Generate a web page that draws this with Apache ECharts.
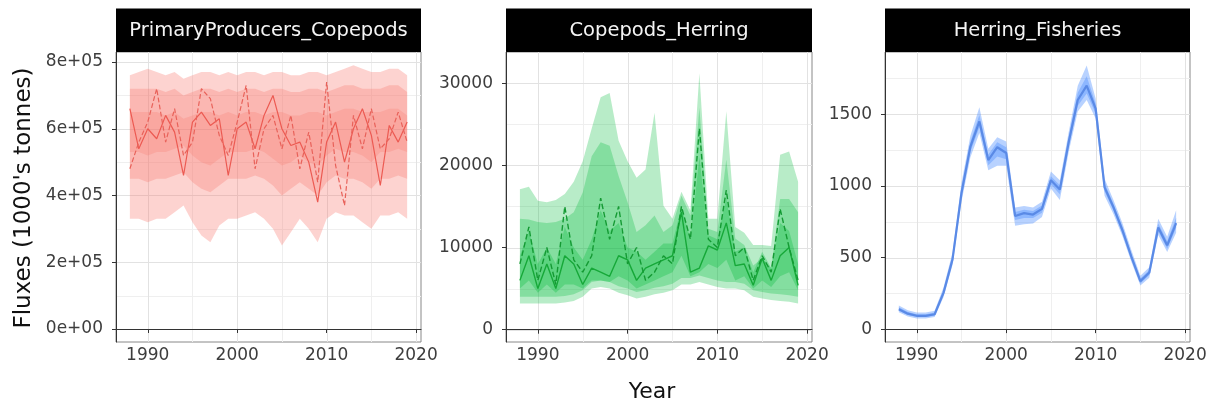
<!DOCTYPE html>
<html><head><meta charset="utf-8">
<script src="https://cdn.jsdelivr.net/npm/echarts@6/dist/echarts.min.js"></script>
<style>html,body{margin:0;padding:0;background:#fff}#c{width:1211px;height:405px}</style>
</head><body><div id="c"></div>
<script>
// ---------- DATA ----------
const years = [1988,1989,1990,1991,1992,1993,1994,1995,1996,1997,1998,1999,2000,2001,2002,2003,2004,2005,2006,2007,2008,2009,2010,2011,2012,2013,2014,2015,2016,2017,2018,2019];
const panelTitles = ["PrimaryProducers_Copepods","Copepods_Herring","Herring_Fisheries"];
const xTicks = [1990,2000,2010,2020];
const xMinor = [1995,2005,2015];

// Panel 1: PrimaryProducers_Copepods
const pp_median = [660000,540000,600000,570000,640000,590000,460000,620000,650000,610000,630000,460000,600000,620000,540000,640000,700000,600000,550000,560000,500000,380000,560000,620000,500000,600000,660000,580000,430000,610000,560000,620000];
const pp_dashed = [480000,560000,620000,720000,560000,660000,520000,560000,720000,690000,580000,520000,620000,730000,480000,600000,640000,540000,640000,480000,590000,440000,740000,490000,370000,640000,540000,660000,540000,570000,650000,560000];
const pp_hi95 = [760000,770000,780000,770000,760000,770000,750000,760000,770000,770000,760000,770000,760000,770000,770000,760000,770000,770000,760000,760000,770000,770000,760000,770000,780000,790000,780000,770000,770000,780000,780000,760000];
const pp_lo95 = [330000,330000,320000,330000,330000,350000,370000,320000,280000,260000,310000,330000,330000,340000,350000,330000,300000,250000,290000,330000,300000,260000,330000,350000,340000,340000,320000,300000,340000,340000,350000,330000];
const pp_hi80 = [720000,720000,720000,720000,710000,720000,700000,710000,720000,720000,710000,720000,710000,720000,720000,710000,720000,720000,710000,710000,720000,720000,710000,720000,730000,730000,720000,720000,720000,730000,730000,710000];
const pp_lo80 = [450000,450000,440000,450000,450000,460000,470000,440000,420000,410000,430000,450000,450000,450000,460000,450000,430000,400000,420000,440000,420000,400000,440000,460000,450000,450000,440000,420000,450000,450000,460000,450000];
const pp_hi50 = [650000,650000,650000,650000,640000,650000,630000,640000,650000,650000,640000,650000,640000,650000,650000,640000,650000,650000,640000,640000,650000,650000,640000,650000,660000,660000,650000,650000,650000,660000,660000,640000];
const pp_lo50 = [530000,530000,520000,530000,530000,540000,550000,520000,500000,490000,510000,530000,530000,530000,540000,530000,510000,490000,500000,520000,500000,490000,520000,540000,530000,530000,520000,500000,530000,530000,540000,530000];
const pp_yTicks = [0,200000,400000,600000,800000];
const pp_yLabels = ["0e+00","2e+05","4e+05","6e+05","8e+05"];
const pp_yMinor = [100000,300000,500000,700000];

// Panel 2: Copepods_Herring
const ch_median = [6000,9000,5000,8000,5000,9000,8000,5500,7500,7000,6500,9000,8500,6000,7500,8000,8500,9000,14300,7000,7500,10200,9700,13000,7800,8000,5400,8700,6000,9000,10000,5400];
const ch_dashed = [8000,12500,6000,10000,5500,15000,8500,7000,9000,16000,11000,15000,8000,10000,6000,7000,9000,8000,15000,11000,24500,11000,10000,17000,9000,10000,6000,9000,7000,14700,10000,6000];
const ch_hi95 = [17100,17400,15700,15500,15800,16500,18000,20500,24500,28300,28800,23000,20500,18500,19500,26400,15100,13500,16800,14500,31200,13500,13500,26600,12500,11800,10300,10300,10200,21300,21700,18000];
const ch_lo95 = [3200,3200,3200,3200,3200,3300,3500,4000,5000,5200,5000,4500,4200,3800,4000,4300,4500,4800,5500,5500,5800,5500,5200,5000,5000,4800,4000,3800,3600,3500,3400,3200];
const ch_hi80 = [13500,13400,13100,13000,13100,13500,14300,16700,21100,22800,22400,18700,15500,11900,12700,13900,11900,12700,16300,13900,27000,12300,11900,20700,11100,10300,7800,8700,7500,15900,15900,14300];
const ch_lo80 = [4000,4000,4000,4000,4000,4100,4300,4800,5800,6000,5800,5300,5000,4600,4800,5100,5300,5600,6300,6300,6600,6300,6000,5800,5800,5600,4800,4600,4400,4300,4200,4000];
const ch_hi50 = [9000,12000,8000,10000,8000,12500,10000,8500,11000,14500,12000,13000,10000,9500,8500,9500,10500,10500,15000,11000,21000,11500,11000,16000,9500,10000,7000,9500,7500,13000,12000,8000];
const ch_lo50 = [5000,6000,4500,5500,4500,5500,5500,5000,6000,6000,5800,6500,6000,5000,5500,6000,6500,7000,9000,6500,7000,8000,7500,8500,6000,6500,5000,6000,5200,6500,7000,4800];
const ch_yTicks = [0,10000,20000,30000];
const ch_yLabels = ["0","10000","20000","30000"];
const ch_yMinor = [5000,15000,25000];

// Panel 3: Herring_Fisheries
const hf_median = [139,108,93,93,104,255,487,950,1275,1450,1180,1270,1230,790,810,800,840,1040,975,1310,1600,1700,1540,990,850,690,505,335,395,710,585,740];
const hf_hi95 = [165,132,116,116,128,292,535,1020,1350,1550,1260,1340,1310,850,860,850,890,1100,1040,1380,1700,1840,1610,1050,900,740,550,372,432,770,645,830];
const hf_lo95 = [118,88,74,74,84,225,448,890,1200,1370,1110,1140,1140,722,732,738,782,982,902,1240,1520,1600,1470,932,802,648,468,304,358,658,538,672];
const hf_hi50 = [152,120,104,104,116,272,508,984,1310,1495,1220,1305,1270,818,834,824,864,1068,1004,1344,1650,1765,1574,1018,874,714,525,353,413,738,613,778];
const hf_lo50 = [128,98,84,84,94,240,467,921,1240,1410,1145,1205,1186,762,776,776,812,1012,942,1276,1560,1645,1506,962,826,668,487,319,377,684,562,706];
const hf_yTicks = [0,500,1000,1500];
const hf_yLabels = ["0","500","1000","1500"];
const hf_yMinor = [250,750,1250,1750];

// ---------- LAYOUT / STYLE ----------
const FONT = "DejaVu Sans";
const gridsPos = [
  {left:116, top:52, width:305, height:290},
  {left:506, top:52, width:306, height:290},
  {left:885, top:52, width:305, height:290}
];
const yRanges = [[-39000, 830000],[-1500, 33800],[-90, 1935]];
const xRange = [1986.45, 2020.55];

function rgba(hex, a){
  const r=parseInt(hex.slice(1,3),16), g=parseInt(hex.slice(3,5),16), b=parseInt(hex.slice(5,7),16);
  return 'rgba('+r+','+g+','+b+','+a+')';
}

function bandSeries(gi, lo, hi, color, a){
  return {
    type:'custom', xAxisIndex:gi, yAxisIndex:gi, silent:true, z:2, clip:true,
    data:[[years[0], lo[0]]],
    renderItem:function(params, api){
      const pts=[];
      for(let i=0;i<years.length;i++) pts.push(api.coord([years[i], hi[i]]));
      for(let i=years.length-1;i>=0;i--) pts.push(api.coord([years[i], lo[i]]));
      return {type:'polygon', shape:{points:pts}, style:{fill:rgba(color,a)}};
    }
  };
}

function gridLineSeries(gi, yMaj, yMin){
  return {
    type:'custom', xAxisIndex:gi, yAxisIndex:gi, silent:true, z:0, clip:true,
    data:[[2000, 0]],
    renderItem:function(params, api){
      const cs=params.coordSys; const ch=[];
      const v=(val,c)=>{const p=api.coord([val,0]); const x=Math.round(p[0])+0.5;
        ch.push({type:'line', shape:{x1:x,y1:cs.y,x2:x,y2:cs.y+cs.height}, style:{stroke:c,lineWidth:1}});};
      const h=(val,c)=>{const p=api.coord([2000,val]); const y=Math.round(p[1])+0.5;
        ch.push({type:'line', shape:{x1:cs.x,y1:y,x2:cs.x+cs.width,y2:y}, style:{stroke:c,lineWidth:1}});};
      xMinor.forEach(t=>v(t,'#efefef'));
      yMin.forEach(t=>h(t,'#efefef'));
      xTicks.forEach(t=>v(t,'#e2e2e2'));
      yMaj.forEach(t=>h(t,'#e2e2e2'));
      return {type:'group', children:ch};
    }
  };
}

function lineSeries(gi, arr, color, type, w){
  return {
    type:'line', xAxisIndex:gi, yAxisIndex:gi, silent:true, z:3,
    symbol:'none', showSymbol:false,
    data: years.map((y,i)=>[y, arr[i]]),
    lineStyle:{color:color, width:w, type:type}
  };
}

const yTickSets = [pp_yTicks, ch_yTicks, hf_yTicks];
const yLabelSets = [pp_yLabels, ch_yLabels, hf_yLabels];

const grids = gridsPos.map(p=>Object.assign({show:true, borderColor:'#888', borderWidth:1, containLabel:false}, p));
const xAxes = gridsPos.map((p,i)=>({
  type:'value', gridIndex:i, min:xRange[0], max:xRange[1],
  splitLine:{show:false},
  axisLine:{show:true, lineStyle:{color:'#333', width:1}},
  axisTick:{show:true, customValues:xTicks, length:4, lineStyle:{color:'#333'}},
  axisLabel:{customValues:xTicks, fontFamily:FONT, fontSize:17, color:'#3d3d3d', margin:5,
    formatter:v=>String(v), showMinLabel:true, showMaxLabel:true}
}));
const yAxes = gridsPos.map((p,i)=>({
  type:'value', gridIndex:i, min:yRanges[i][0], max:yRanges[i][1],
  splitLine:{show:false},
  axisLine:{show:true, lineStyle:{color:'#333', width:1}},
  axisTick:{show:true, customValues:yTickSets[i], length:4, lineStyle:{color:'#333'}},
  axisLabel:{customValues:yTickSets[i], fontFamily:FONT, fontSize:17, color:'#3d3d3d', margin:13,
    formatter:v=>{const k=yTickSets[i].indexOf(v); return k>=0?yLabelSets[i][k]:'';}}
}));

const RED='#F8766D', GREEN='#00BA38', BLUE='#619CFF';
const series = [
  gridLineSeries(0, pp_yTicks, pp_yMinor),
  gridLineSeries(1, ch_yTicks, ch_yMinor),
  gridLineSeries(2, hf_yTicks, hf_yMinor),
  bandSeries(0, pp_lo95, pp_hi95, RED, 0.32),
  bandSeries(0, pp_lo80, pp_hi80, RED, 0.3),
  bandSeries(0, pp_lo50, pp_hi50, RED, 0.25),
  lineSeries(0, pp_median, '#ec5a52', 'solid', 1.2),
  lineSeries(0, pp_dashed, '#e8625a', 'dashed', 1.2),
  bandSeries(1, ch_lo95, ch_hi95, GREEN, 0.28),
  bandSeries(1, ch_lo80, ch_hi80, GREEN, 0.28),
  bandSeries(1, ch_lo50, ch_hi50, GREEN, 0.3),
  lineSeries(1, ch_median, '#16a838', 'solid', 1.4),
  lineSeries(1, ch_dashed, '#149a33', 'dashed', 1.4),
  bandSeries(2, hf_lo95, hf_hi95, BLUE, 0.45),
  bandSeries(2, hf_lo50, hf_hi50, BLUE, 0.5),
  lineSeries(2, hf_median, '#5a8ae6', 'solid', 2.2)
];

const graphics = [];
gridsPos.forEach((p,i)=>{
  graphics.push({type:'rect', left:p.left, top:8.5, shape:{width:p.width, height:43.5}, style:{fill:'#000'}, silent:true});
  graphics.push({type:'text', x:p.left+p.width/2, y:31, silent:true,
    style:{text:panelTitles[i], fill:'#f4f4f4', font:'19.5px "'+FONT+'"', textAlign:'center', textVerticalAlign:'middle'}});
});
graphics.push({type:'text', x:24, y:198, rotation:Math.PI/2, silent:true,
  style:{text:"Fluxes (1000's tonnes)", fill:'#111', font:'23px "'+FONT+'"', textAlign:'center', textVerticalAlign:'middle'}});
graphics.push({type:'text', x:652, y:392, silent:true,
  style:{text:"Year", fill:'#111', font:'22px "'+FONT+'"', textAlign:'center', textVerticalAlign:'middle'}});

const chart = echarts.init(document.getElementById('c'));
chart.setOption({
  animation:false,
  backgroundColor:'#fff',
  grid: grids,
  xAxis: xAxes,
  yAxis: yAxes,
  series: series,
  graphic: graphics
});
</script>
</body></html>
